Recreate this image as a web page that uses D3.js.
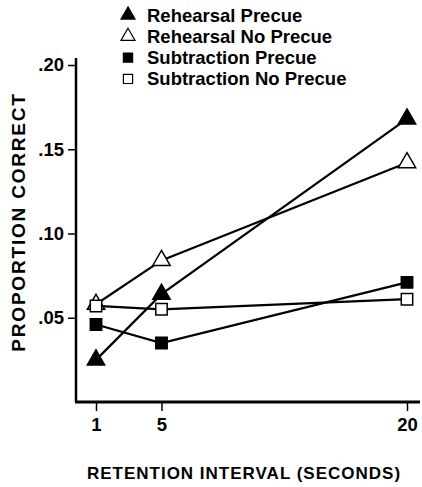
<!DOCTYPE html>
<html>
<head>
<meta charset="utf-8">
<script src="https://cdn.jsdelivr.net/npm/d3@7"></script>
<style>
  body { margin: 0; background: #fff; }
  svg { display: block; font-family: "Liberation Sans", Arial, sans-serif; }
</style>
</head>
<body>
<div id="chart-area"></div>
<script>
// Data
var intervals = [1, 5, 20];
var seriesNames = ["Rehearsal Precue", "Rehearsal No Precue", "Subtraction Precue", "Subtraction No Precue"];
var rehearsalPrecue = [0.025, 0.064, 0.168];
var rehearsalNoPrecue = [0.058, 0.084, 0.142];
var subtractionPrecue = [0.046, 0.035, 0.071];
var subtractionNoPrecue = [0.057, 0.055, 0.061];
var yTicks = [0.05, 0.10, 0.15, 0.20];
var yTickLabels = [".05", ".10", ".15", ".20"];

var series = [
    { name: seriesNames[0], values: rehearsalPrecue, shape: d3.symbolTriangle, filled: true },
    { name: seriesNames[1], values: rehearsalNoPrecue, shape: d3.symbolTriangle, filled: false },
    { name: seriesNames[2], values: subtractionPrecue, shape: d3.symbolSquare, filled: true },
    { name: seriesNames[3], values: subtractionNoPrecue, shape: d3.symbolSquare, filled: false }
];

var W = 422, H = 487;
var svg = d3.select("#chart-area")
    .append("svg")
        .attr("width", W)
        .attr("height", H);

// Scales
var x = d3.scaleLinear()
    .domain([1, 20])
    .range([96, 407]);
var y = d3.scaleLinear()
    .domain([0, 0.20])
    .range([402, 65]);

// Y Axis
var yAxisCall = d3.axisLeft(y)
    .tickValues(yTicks)
    .tickSize(8)
    .tickPadding(4)
    .tickFormat(function(d, i){ return yTickLabels[i]; });
var yAxis = svg.append("g")
    .attr("transform", "translate(76,0)")
    .call(yAxisCall);
yAxis.select(".domain").remove();
yAxis.append("line")
    .attr("x1", 0).attr("x2", 0)
    .attr("y1", 58).attr("y2", 402)
    .attr("stroke", "#000")
    .attr("stroke-width", 2.5);

// X Axis
var xAxisCall = d3.axisBottom(x)
    .tickValues(intervals)
    .tickSize(9)
    .tickPadding(7)
    .tickFormat(d3.format("d"));
var xAxis = svg.append("g")
    .attr("transform", "translate(0,402)")
    .call(xAxisCall);
xAxis.select(".domain").remove();
xAxis.append("line")
    .attr("x1", 75).attr("x2", 420)
    .attr("y1", 0).attr("y2", 0)
    .attr("stroke", "#000")
    .attr("stroke-width", 3);

svg.selectAll(".tick line")
    .attr("stroke", "#000")
    .attr("stroke-width", 1.5);
svg.selectAll(".tick text")
    .attr("fill", "#000")
    .attr("font-size", "18.5px")
    .attr("font-weight", "bold")
    .attr("font-family", "Liberation Sans, Arial, sans-serif");

// Labels
svg.append("text")
    .attr("transform", "rotate(-90)")
    .attr("x", -222)
    .attr("y", 25)
    .attr("text-anchor", "middle")
    .attr("font-size", "19px")
    .attr("font-weight", "bold")
    .attr("letter-spacing", "1.8px")
    .text("PROPORTION CORRECT");
svg.append("text")
    .attr("x", 244)
    .attr("y", 479)
    .attr("text-anchor", "middle")
    .attr("font-size", "17px")
    .attr("font-weight", "bold")
    .attr("letter-spacing", "1px")
    .text("RETENTION INTERVAL (SECONDS)");

// Lines
var line = d3.line()
    .x(function(d, i){ return x(intervals[i]); })
    .y(function(d){ return y(d); });

svg.selectAll(".series-line")
    .data(series)
    .enter()
    .append("path")
        .attr("class", "series-line")
        .attr("d", function(d){ return line(d.values); })
        .attr("fill", "none")
        .attr("stroke", "#000")
        .attr("stroke-width", 2.2);

// Markers
var symbol = d3.symbol().size(130);
series.forEach(function(s){
    svg.selectAll(null)
        .data(s.values)
        .enter()
        .append("path")
            .attr("d", symbol.type(s.shape)())
            .attr("transform", function(d, i){
                return "translate(" + x(intervals[i]) + "," + y(d) + ")";
            })
            .attr("fill", s.filled ? "#000" : "#fff")
            .attr("stroke", "#000")
            .attr("stroke-width", 1.5);
});

// Legend
var legend = svg.append("g")
    .attr("transform", "translate(128,15)");
var legendSymbol = d3.symbol().size(85);
series.forEach(function(s, i){
    var row = legend.append("g")
        .attr("transform", "translate(0," + (i * 21.3) + ")");
    row.append("path")
        .attr("d", legendSymbol.type(s.shape)())
        .attr("fill", s.filled ? "#000" : "#fff")
        .attr("stroke", "#000")
        .attr("stroke-width", 1.2);
    row.append("text")
        .attr("x", 19)
        .attr("y", 6.5)
        .attr("font-size", "18.5px")
        .attr("font-weight", "bold")
        .text(s.name);
});
</script>
</body>
</html>
